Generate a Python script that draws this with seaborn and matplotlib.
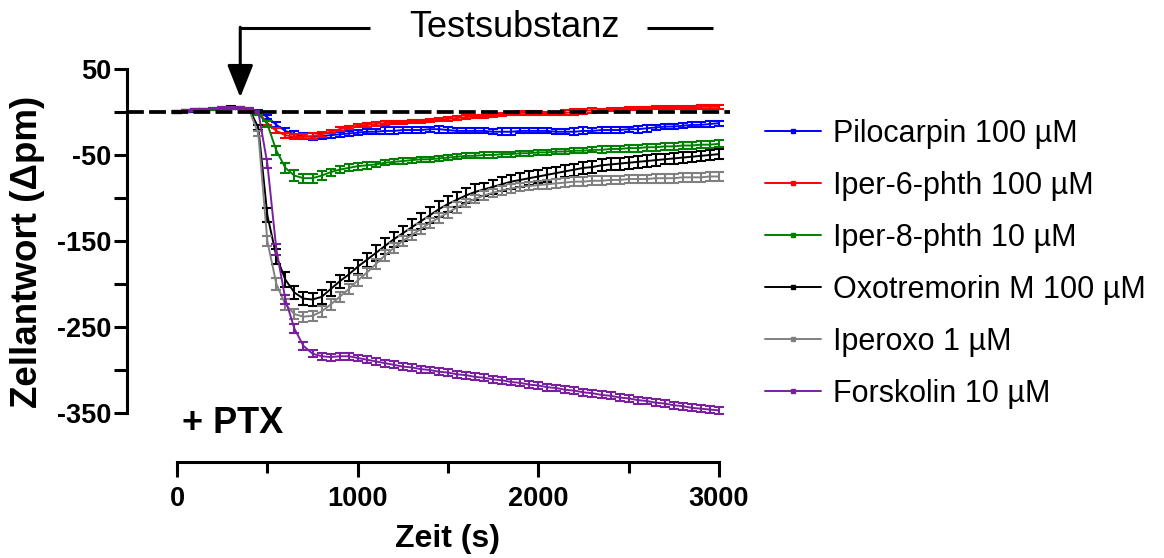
import matplotlib
matplotlib.use("Agg")
import matplotlib.pyplot as plt
import pandas as pd
import seaborn as sns
from matplotlib.lines import Line2D
from matplotlib.patches import ArrowStyle
from matplotlib.ticker import FixedLocator

# Sampling times of the dynamic mass redistribution read-out (s)
zeit = list(range(0, 3001, 50))

substanzen = [
    "Pilocarpin 100 µM",
    "Iper-6-phth 100 µM",
    "Iper-8-phth 10 µM",
    "Oxotremorin M 100 µM",
    "Iperoxo 1 µM",
    "Forskolin 10 µM",
]
farben = ["#0000ff", "#ff0000", "#008000", "#000000", "#808080", "#7a1fa0"]

# Mean cell response (Δpm); rows: 0-400 s, 450-950 s, 1000-1450 s,
# 1500-1950 s, 2000-2450 s, 2500-3000 s
pilocarpin = [
    0, 1, 1, 2, 3, 4, 4, 4, 3,
    1, -6, -15, -22, -26, -28, -29, -28, -27, -26, -25,
    -24, -23, -23, -22, -22, -21, -21, -21, -20, -20,
    -21, -22, -22, -22, -22, -23, -23, -23, -22, -22,
    -22, -22, -23, -23, -23, -22, -22, -21, -21, -21,
    -20, -20, -19, -18, -17, -17, -16, -15, -15, -14, -13,
]
iper6 = [
    0, 1, 2, 2, 3, 4, 5, 5, 4,
    0, -13, -22, -27, -29, -29, -28, -26, -23, -20, -18,
    -16, -15, -14, -13, -12, -12, -11, -11, -10, -9,
    -8, -7, -6, -5, -5, -4, -3, -2, -1, -1,
    -1, -2, -2, -1, 0, 1, 2, 2, 3, 3,
    4, 4, 4, 5, 5, 5, 5, 5, 6, 6, 6,
]
iper8 = [
    0, 1, 2, 2, 3, 4, 5, 5, 4,
    -2, -14, -45, -65, -74, -77, -77, -74, -70, -67, -65,
    -63, -62, -61, -59, -58, -57, -56, -55, -55, -54,
    -53, -52, -51, -51, -50, -50, -49, -49, -48, -48,
    -47, -47, -46, -46, -45, -45, -44, -44, -43, -43,
    -42, -42, -41, -41, -40, -40, -39, -39, -38, -38, -37,
]
oxotremorin = [
    0, 1, 2, 3, 4, 5, 6, 5, 3,
    -18, -120, -168, -195, -210, -217, -218, -215, -206, -197, -189,
    -180, -172, -164, -156, -148, -141, -134, -127, -120, -113,
    -107, -102, -97, -93, -90, -87, -84, -81, -79, -77,
    -75, -73, -71, -69, -67, -65, -64, -62, -61, -60,
    -59, -58, -57, -56, -55, -54, -53, -52, -51, -50, -49,
]
iperoxo = [
    0, 1, 2, 3, 4, 5, 5, 4, 2,
    -25, -150, -200, -224, -235, -238, -237, -232, -224, -215, -206,
    -196, -187, -177, -167, -158, -150, -143, -136, -129, -123,
    -117, -111, -106, -101, -97, -94, -91, -89, -87, -86,
    -85, -84, -83, -82, -81, -81, -80, -80, -79, -79,
    -78, -78, -78, -77, -77, -77, -76, -76, -76, -75, -75,
]
forskolin = [
    0, 1, 2, 3, 4, 5, 5, 5, 4,
    0, -60, -160, -218, -252, -272, -281, -284, -285, -284, -284,
    -286, -288, -290, -292, -294, -296, -297, -299, -300, -302,
    -303, -305, -306, -308, -309, -311, -312, -314, -315, -317,
    -318, -320, -321, -323, -324, -326, -327, -329, -330, -332,
    -333, -335, -336, -338, -339, -341, -342, -344, -345, -346, -347,
]

# Standard error of the mean (Δpm), same layout as above
sem_pilocarpin = [
    1, 1, 1, 1, 1, 1, 1, 1, 1,
    1, 2, 3, 3, 4, 4, 4, 3, 3, 3, 3,
    3, 3, 3, 4, 4, 3, 3, 3, 3, 4,
    4, 3, 3, 3, 3, 3, 4, 4, 3, 3,
    3, 3, 3, 3, 4, 4, 3, 3, 3, 3,
    3, 4, 4, 3, 3, 3, 3, 3, 3, 3, 3,
]
sem_iper6 = [
    1, 1, 1, 1, 1, 1, 1, 1, 1,
    1, 2, 3, 3, 3, 3, 3, 3, 2, 2, 2,
    2, 2, 2, 2, 2, 2, 2, 2, 2, 2,
    2, 2, 2, 2, 2, 2, 2, 2, 2, 2,
    2, 2, 2, 3, 3, 3, 3, 2, 2, 2,
    2, 2, 2, 2, 2, 2, 2, 2, 2, 2, 2,
]
sem_iper8 = [
    1, 1, 1, 1, 1, 1, 1, 1, 1,
    1, 3, 5, 6, 6, 5, 5, 5, 4, 4, 4,
    4, 4, 3, 3, 3, 3, 3, 3, 3, 3,
    3, 3, 3, 3, 3, 3, 3, 3, 3, 3,
    3, 3, 3, 3, 3, 3, 3, 4, 4, 4,
    4, 4, 4, 4, 4, 4, 4, 4, 4, 4, 4,
]
sem_oxotremorin = [
    1, 1, 1, 1, 1, 1, 1, 1, 1,
    3, 8, 9, 9, 8, 8, 8, 8, 8, 8, 8,
    8, 8, 9, 9, 9, 9, 9, 9, 9, 9,
    9, 9, 9, 9, 8, 8, 8, 8, 8, 8,
    8, 8, 7, 7, 7, 7, 7, 7, 7, 7,
    7, 7, 7, 7, 6, 6, 6, 6, 6, 6, 6,
]
sem_iperoxo = [
    1, 1, 1, 1, 1, 1, 1, 1, 1,
    3, 6, 7, 6, 6, 6, 6, 6, 6, 6, 6,
    6, 6, 6, 6, 6, 6, 6, 6, 6, 6,
    6, 6, 5, 5, 5, 5, 5, 5, 5, 5,
    5, 5, 5, 5, 5, 5, 5, 5, 5, 5,
    5, 5, 5, 5, 5, 5, 5, 5, 5, 5, 5,
]
sem_forskolin = [
    1, 1, 1, 1, 1, 1, 1, 1, 1,
    1, 5, 6, 5, 5, 5, 4, 4, 4, 4, 4,
    4, 4, 4, 4, 4, 4, 4, 4, 4, 4,
    4, 4, 4, 4, 4, 4, 4, 4, 4, 4,
    4, 4, 4, 4, 4, 4, 4, 4, 4, 4,
    4, 4, 4, 4, 4, 4, 4, 4, 4, 4, 4,
]

mittelwerte = [pilocarpin, iper6, iper8, oxotremorin, iperoxo, forskolin]
fehler = [sem_pilocarpin, sem_iper6, sem_iper8, sem_oxotremorin, sem_iperoxo, sem_forskolin]

y_major = [50, -50, -150, -250, -350]
y_minor = [0, -100, -200, -300]
x_major = [0, 1000, 2000, 3000]
x_minor = [500, 1500, 2500]
zugabe_zeit = 350  # time point of compound addition (s)

rows = []
for name, werte, sem in zip(substanzen, mittelwerte, fehler):
    for t, v, e in zip(zeit, werte, sem):
        rows.append({"Zeit": t, "Antwort": v, "SEM": e, "Substanz": name})
df = pd.DataFrame(rows)

sns.set_style("ticks")
plt.rcParams["font.family"] = ["Liberation Sans", "DejaVu Sans"]
plt.rcParams["text.color"] = "black"
plt.rcParams["axes.labelcolor"] = "black"
plt.rcParams["xtick.color"] = "black"
plt.rcParams["ytick.color"] = "black"

fig = plt.figure(figsize=(11.64, 5.58), dpi=100)
ax = fig.add_axes([0.1091, 0.1720, 0.5180, 0.7121])

# draw order: grey below black, forskolin on top
order = [0, 1, 2, 4, 3, 5]
for i in order:
    sub = df[df["Substanz"] == substanzen[i]]
    sns.lineplot(data=sub, x="Zeit", y="Antwort", color=farben[i], linewidth=1.4,
                 errorbar=None, legend=False, ax=ax, zorder=3 + i * 0.1)
    ax.errorbar(sub["Zeit"], sub["Antwort"], yerr=sub["SEM"], fmt="none",
                ecolor=farben[i], elinewidth=1.5, capsize=3.4, capthick=1.5,
                zorder=3 + i * 0.1)

# baseline
ax.axhline(0, color="black", lw=2.7, dashes=(4.5, 1.4), zorder=6)

ax.set_xlim(-277, 3061)
ax.set_ylim(-407, 55)
ax.set_facecolor("white")
for s in ("top", "right"):
    ax.spines[s].set_visible(False)
ax.spines["left"].set_bounds(-350, 50)
ax.spines["bottom"].set_bounds(0, 3000)
for s in ("left", "bottom"):
    ax.spines[s].set_linewidth(2.2)
    ax.spines[s].set_color("black")

ax.yaxis.set_major_locator(FixedLocator(y_major))
ax.yaxis.set_minor_locator(FixedLocator(y_minor))
ax.xaxis.set_major_locator(FixedLocator(x_major))
ax.xaxis.set_minor_locator(FixedLocator(x_minor))
ax.tick_params(axis="y", which="both", length=9.5, width=2.2, color="black",
               direction="out", pad=2, labelsize=19.5, labelcolor="black")
ax.tick_params(axis="x", which="major", length=10.8, width=2.2, color="black",
               direction="out", pad=6.3, labelsize=19.5, labelcolor="black")
ax.tick_params(axis="x", which="minor", length=8, width=2.2, color="black",
               direction="out")
ax.set_yticklabels([str(v) for v in y_major])
ax.set_xticklabels([str(v) for v in x_major])
for lab in ax.get_xticklabels() + ax.get_yticklabels():
    lab.set_fontweight("bold")

ax.set_xlabel("Zeit (s)", fontsize=23, fontweight="bold", color="black")
ax.set_ylabel("Zellantwort (Δpm)", fontsize=26.5, fontweight="bold", color="black")
ax.xaxis.set_label_coords(0.532, -0.155)
ax.yaxis.set_label_coords(-0.136, 0.53)

# compound addition marker
ax.annotate("", xy=(zugabe_zeit, 17), xytext=(zugabe_zeit, 98.5),
            arrowprops=dict(arrowstyle=ArrowStyle("-|>", head_length=2.0, head_width=0.8),
                            mutation_scale=10, lw=2.2, color="black",
                            shrinkA=0, shrinkB=0),
            annotation_clip=False)
ax.plot([zugabe_zeit - 5, 1068], [97.7, 97.7], color="black", lw=2.2,
        clip_on=False, solid_capstyle="butt")
ax.plot([2601, 2966], [97.7, 97.7], color="black", lw=2.2,
        clip_on=False, solid_capstyle="butt")
ax.text(1868, 87, "Testsubstanz", fontsize=26, ha="center", va="baseline",
        color="black")
ax.text(28, -373, "+ PTX", fontsize=26, fontweight="bold", ha="left",
        va="baseline", color="black")

handles = [Line2D([], [], color=c, lw=1.4, marker="s", markersize=2.6)
           for c in farben]
leg = fig.legend(handles, substanzen, loc="upper left",
                 bbox_to_anchor=(0.657, 0.787), frameon=False, fontsize=22,
                 handlelength=1.85, handletextpad=0.37, labelspacing=0.72,
                 borderpad=0, borderaxespad=0, labelcolor="black")

fig.savefig("out.png", dpi=100, facecolor="white")
